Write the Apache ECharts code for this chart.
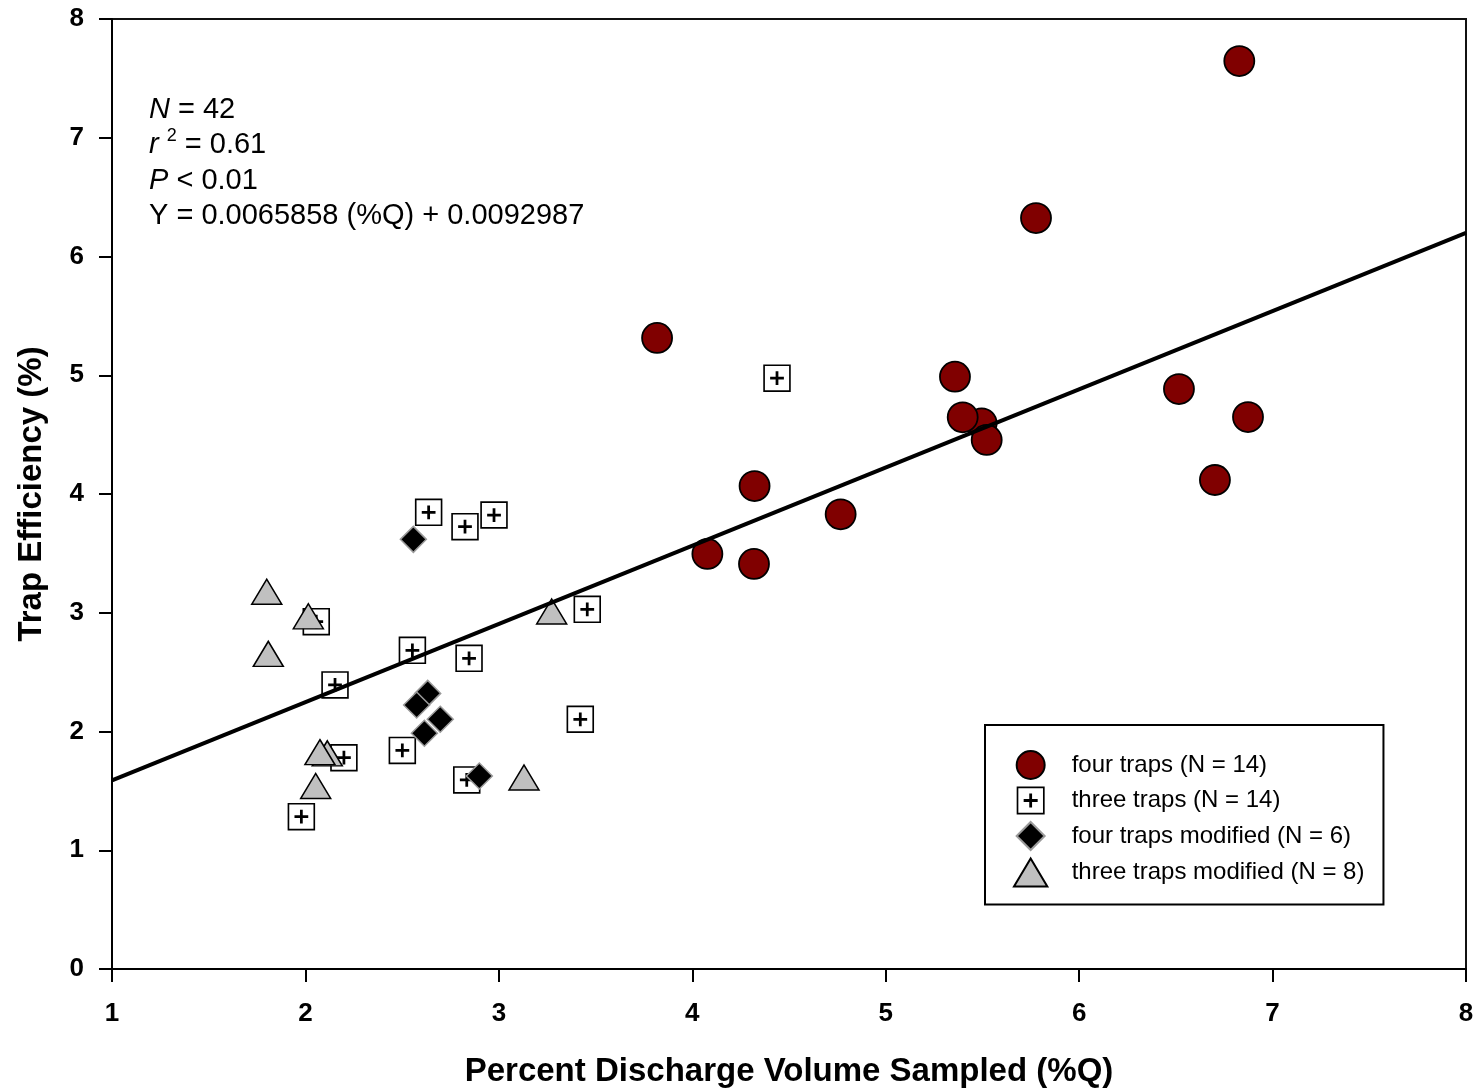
<!DOCTYPE html>
<html>
<head>
<meta charset="utf-8">
<title>Trap Efficiency vs Percent Discharge Volume Sampled</title>
<script src="https://cdn.jsdelivr.net/npm/echarts@6/dist/echarts.min.js"></script>
<style>
  html, body { margin: 0; padding: 0; background: #fff; }
  #chart { width: 1477px; height: 1091px; }
</style>
</head>
<body>
<div id="chart"></div>
<script>
// ---------------- DATA ----------------
const seriesNames = [
  'four traps (N = 14)',
  'three traps (N = 14)',
  'four traps modified (N = 6)',
  'three traps modified (N = 8)'
];

// [percent discharge volume sampled (%Q), trap efficiency (%)]
const fourTraps = [
  [5.496, 4.595], [6.828, 7.646], [5.777, 6.324], [3.818, 5.314],
  [5.358, 4.988], [6.516, 4.884], [6.873, 4.648], [5.398, 4.646],
  [5.522, 4.455], [6.702, 4.118], [4.322, 4.067], [4.767, 3.829],
  [4.078, 3.495], [4.319, 3.411]
];
const threeTraps = [
  [4.438, 4.975], [2.637, 3.846], [2.825, 3.725], [2.975, 3.823],
  [2.056, 2.925], [3.457, 3.029], [2.553, 2.684], [2.846, 2.616],
  [2.153, 2.392], [3.421, 2.103], [2.199, 1.779], [2.501, 1.841],
  [2.834, 1.592], [1.979, 1.283]
];
const fourTrapsModified = [
  [2.558, 3.618], [2.632, 2.321], [2.575, 2.223],
  [2.697, 2.103], [2.615, 1.985], [2.899, 1.625]
];
const threeTrapsModified = [
  [1.800, 3.177], [2.015, 2.970], [1.808, 2.654], [3.273, 3.011],
  [2.113, 1.816], [2.075, 1.826], [2.053, 1.541], [3.130, 1.613]
];

// Regression (reported as fractions: Y = 0.0065858 (%Q) + 0.0092987) -> in percent units
const regressionSlope = 0.65858;
const regressionIntercept = 0.92987;

const xTicks = [1, 8, 1];   // min, max, interval
const yTicks = [0, 8, 1];

// ---------------- CHART ----------------
const FONT = '"Liberation Sans", Arial, Helvetica, sans-serif';
const sqPlusPath = 'path://M0,0H100V100H0Z M6,6V94H94V6Z M45,25H55V45H75V55H55V75H45V55H25V45H45Z';
const circlePath = 'path://M50,0A50,50,0,1,1,50,100A50,50,0,1,1,50,0Z';
const diamondPath = 'path://M50,0L100,50L50,100L0,50Z';
const trianglePath = 'path://M50,0L100,84L0,84Z';

const regLine = [xTicks[0], xTicks[1]].map(x => [x, regressionIntercept + regressionSlope * x]);

const chart = echarts.init(document.getElementById('chart'), null, { renderer: 'canvas' });

chart.setOption({
  animation: false,
  backgroundColor: '#fff',
  title: {
    left: 149,
    top: 92,
    padding: 0,
    text: '{i|N} = 42\n{i|r} {sup|2} = 0.61\n{i|P} < 0.01\nY = 0.0065858 (%Q) + 0.0092987',
    textStyle: {
      fontFamily: FONT,
      fontSize: 29,
      fontWeight: 'normal',
      color: '#000',
      lineHeight: 35.5,
      rich: {
        i: { fontFamily: FONT, fontSize: 29, fontStyle: 'italic', color: '#000', lineHeight: 35.5 },
        sup: { fontFamily: FONT, fontSize: 18, color: '#000', verticalAlign: 'top', lineHeight: 22 }
      }
    }
  },
  grid: {
    left: 112, right: 11, top: 19, bottom: 122,
    outerBoundsMode: 'none',
    containLabel: false,
    show: true, borderColor: '#111', borderWidth: 2, backgroundColor: 'transparent'
  },
  legend: {
    orient: 'vertical',
    left: 985,
    top: 725,
    padding: [25, 19, 17, 28],
    itemWidth: 72,
    itemHeight: 28,
    itemGap: 6.5,
    borderColor: '#000',
    borderWidth: 2,
    backgroundColor: '#fff',
    selectedMode: false,
    textStyle: { fontFamily: FONT, fontSize: 24, color: '#000' },
    data: [
      { name: seriesNames[0], icon: circlePath },
      { name: seriesNames[1], icon: sqPlusPath },
      { name: seriesNames[2], icon: diamondPath },
      { name: seriesNames[3], icon: trianglePath }
    ]
  },
  xAxis: {
    type: 'value',
    min: xTicks[0], max: xTicks[1], interval: xTicks[2],
    name: 'Percent Discharge Volume Sampled (%Q)',
    nameLocation: 'middle',
    nameGap: 86,
    nameTextStyle: { fontFamily: FONT, fontSize: 33, fontWeight: 'bold', color: '#000' },
    axisLine: { show: true, onZero: false, lineStyle: { color: '#000', width: 2 } },
    axisTick: { show: true, inside: false, length: 13, lineStyle: { color: '#000', width: 2 } },
    axisLabel: { fontFamily: FONT, fontSize: 26, fontWeight: 'bold', color: '#000', margin: 32 },
    splitLine: { show: false }
  },
  yAxis: {
    type: 'value',
    min: yTicks[0], max: yTicks[1], interval: yTicks[2],
    name: 'Trap Efficiency (%)',
    nameLocation: 'middle',
    nameGap: 64,
    nameTextStyle: { fontFamily: FONT, fontSize: 33, fontWeight: 'bold', color: '#000' },
    axisLine: { show: true, onZero: false, lineStyle: { color: '#000', width: 2 } },
    axisTick: { show: true, inside: false, length: 13, lineStyle: { color: '#000', width: 2 } },
    axisLabel: { fontFamily: FONT, fontSize: 26, fontWeight: 'bold', color: '#000', margin: 28 },
    splitLine: { show: false }
  },
  series: [
    {
      name: seriesNames[0], type: 'scatter', data: fourTraps,
      symbol: 'circle', symbolSize: 30,
      itemStyle: { color: '#800000', borderColor: '#000', borderWidth: 1.8, opacity: 1 },
      emphasis: { disabled: true }
    },
    {
      name: seriesNames[1], type: 'scatter', data: threeTraps,
      symbol: sqPlusPath, symbolSize: 27.5, symbolKeepAspect: true,
      itemStyle: { color: '#000', borderWidth: 0, opacity: 1 },
      emphasis: { disabled: true }
    },
    {
      name: seriesNames[2], type: 'scatter', data: fourTrapsModified,
      symbol: 'diamond', symbolSize: 26,
      itemStyle: { color: '#000', borderColor: '#9a9a9a', borderWidth: 1.5, opacity: 1 },
      emphasis: { disabled: true }
    },
    {
      name: seriesNames[3], type: 'scatter', data: threeTrapsModified,
      symbol: 'triangle', symbolSize: [30, 25],
      itemStyle: { color: '#c0c0c0', borderColor: '#000', borderWidth: 1.5, opacity: 1 },
      emphasis: { disabled: true }
    },
    {
      name: 'regression', type: 'line', data: regLine,
      symbol: 'none', silent: true, z: 5,
      lineStyle: { color: '#000', width: 4 },
      emphasis: { disabled: true }
    }
  ]
});
</script>
</body>
</html>
